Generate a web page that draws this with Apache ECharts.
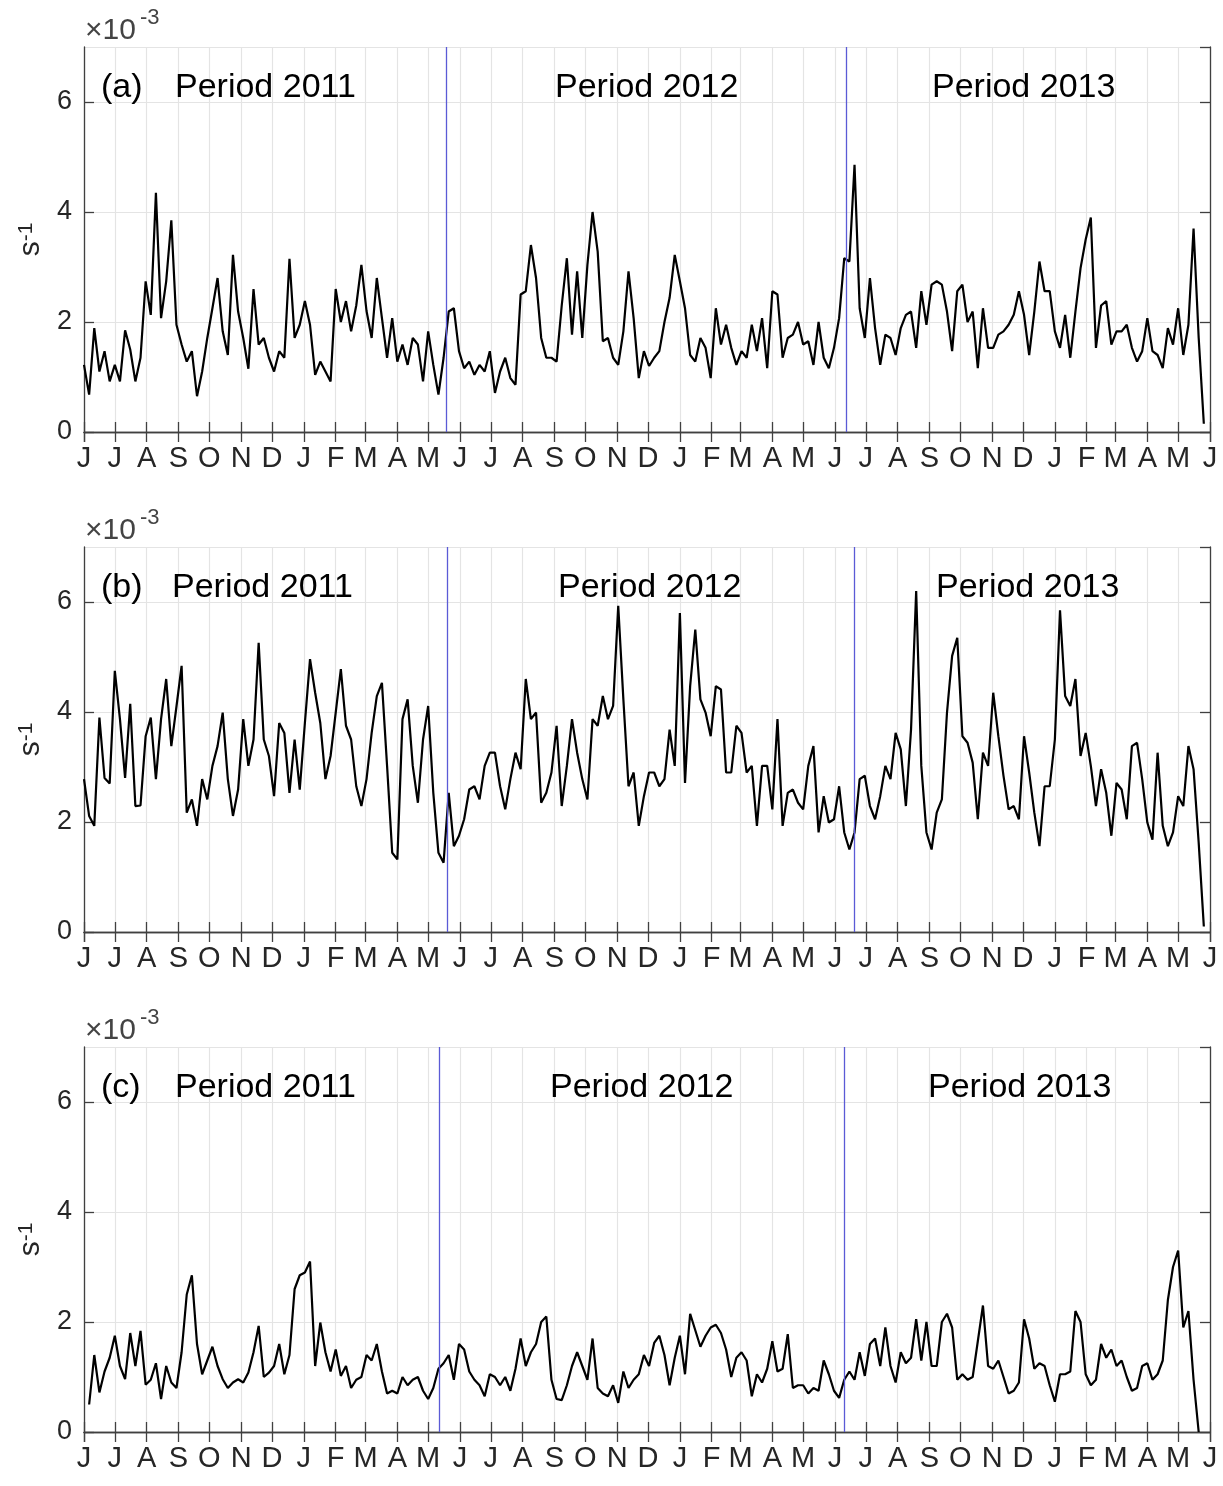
<!DOCTYPE html>
<html>
<head>
<meta charset="utf-8">
<script src="https://cdn.jsdelivr.net/npm/echarts@6/dist/echarts.min.js"></script>
<style>
  html, body { margin: 0; padding: 0; background: #fff; }
  #chart { width: 1223px; height: 1486px; }
</style>
</head>
<body>
<div id="chart"></div>
<script>
// time range and sampling (values are read every 5 days from 1 Jun 2011)
const startDate = Date.UTC(2011, 5, 1);
const endDate = Date.UTC(2014, 5, 1);
const stepDays = 5;
const DAY = 86400000;

const monthLetters = ['J', 'F', 'M', 'A', 'M', 'J', 'J', 'A', 'S', 'O', 'N', 'D'];
const panelLetters = ['(a)', '(b)', '(c)'];
const periodNames = ['Period 2011', 'Period 2012', 'Period 2013'];
const yTicks = [0, 2, 4, 6];

// dates of the blue lines separating the periods, per panel
const breaksA = ['2012-05-19', '2013-06-12'];
const breaksB = ['2012-05-20', '2013-06-20'];
const breaksC = ['2012-05-12', '2013-06-10'];

// x 10^-3 s^-1
const seriesA = [
  1.22, 0.68, 1.89, 1.10, 1.47, 0.92, 1.22, 0.92, 1.85, 1.50,
  0.92, 1.35, 2.74, 2.13, 4.35, 2.07, 2.74, 3.85, 1.95, 1.59,
  1.28, 1.47, 0.65, 1.10, 1.71, 2.25, 2.80, 1.83, 1.40, 3.22,
  2.19, 1.71, 1.15, 2.60, 1.59, 1.71, 1.35, 1.10, 1.47, 1.35,
  3.15, 1.71, 1.95, 2.38, 1.95, 1.04, 1.28, 1.10, 0.92, 2.60,
  2.00, 2.38, 1.83, 2.30, 3.04, 2.20, 1.71, 2.80, 2.07, 1.35,
  2.07, 1.28, 1.59, 1.22, 1.71, 1.59, 0.92, 1.83, 1.22, 0.68,
  1.35, 2.19, 2.25, 1.47, 1.16, 1.28, 1.04, 1.22, 1.10, 1.47,
  0.71, 1.10, 1.35, 0.98, 0.86, 2.50, 2.56, 3.40, 2.80, 1.71,
  1.35, 1.35, 1.28, 2.30, 3.16, 1.77, 2.92, 1.71, 3.04, 4.00,
  3.28, 1.65, 1.71, 1.35, 1.22, 1.83, 2.92, 2.07, 0.98, 1.47,
  1.20, 1.35, 1.47, 2.00, 2.44, 3.22, 2.74, 2.25, 1.40, 1.28,
  1.71, 1.53, 0.98, 2.25, 1.59, 1.95, 1.53, 1.22, 1.47, 1.35,
  1.95, 1.47, 2.07, 1.16, 2.56, 2.50, 1.35, 1.71, 1.77, 2.00,
  1.59, 1.65, 1.22, 2.00, 1.35, 1.16, 1.53, 2.07, 3.16, 3.10,
  4.86, 2.25, 1.71, 2.80, 1.89, 1.22, 1.77, 1.71, 1.40, 1.89,
  2.13, 2.19, 1.53, 2.56, 1.95, 2.68, 2.74, 2.68, 2.19, 1.47,
  2.56, 2.68, 2.00, 2.19, 1.16, 2.25, 1.53, 1.53, 1.77, 1.83,
  1.95, 2.13, 2.56, 2.13, 1.40, 2.19, 3.10, 2.56, 2.56, 1.83,
  1.53, 2.13, 1.35, 2.19, 2.98, 3.50, 3.90, 1.53, 2.30, 2.38,
  1.59, 1.83, 1.83, 1.95, 1.53, 1.28, 1.47, 2.07, 1.47, 1.40,
  1.16, 1.89, 1.59, 2.25, 1.40, 1.95, 3.70, 1.71, 0.15
];

const seriesB = [
  2.78, 2.11, 1.93, 3.90, 2.80, 2.70, 4.75, 3.87, 2.80, 4.15,
  2.29, 2.30, 3.56, 3.90, 2.78, 3.87, 4.60, 3.38, 4.10, 4.84,
  2.17, 2.41, 1.93, 2.78, 2.41, 3.02, 3.38, 3.99, 2.78, 2.11,
  2.59, 3.87, 3.02, 3.50, 5.26, 3.50, 3.20, 2.47, 3.80, 3.62,
  2.53, 3.50, 2.59, 3.80, 4.96, 4.35, 3.80, 2.78, 3.20, 3.99,
  4.78, 3.75, 3.50, 2.65, 2.29, 2.78, 3.62, 4.29, 4.53, 3.02,
  1.44, 1.32, 3.87, 4.23, 3.02, 2.35, 3.50, 4.11, 2.53, 1.44,
  1.26, 2.53, 1.56, 1.75, 2.05, 2.59, 2.65, 2.41, 3.02, 3.26,
  3.26, 2.65, 2.23, 2.78, 3.26, 2.96, 4.60, 3.87, 3.99, 2.35,
  2.53, 2.90, 3.75, 2.29, 3.02, 3.87, 3.26, 2.78, 2.41, 3.87,
  3.75, 4.29, 3.87, 4.11, 5.93, 4.23, 2.65, 2.90, 1.93, 2.47,
  2.90, 2.90, 2.65, 2.78, 3.68, 3.02, 5.80, 2.71, 4.47, 5.50,
  4.23, 3.99, 3.56, 4.47, 4.41, 2.90, 2.90, 3.75, 3.62, 2.90,
  3.02, 1.93, 3.02, 3.02, 2.23, 3.87, 1.93, 2.53, 2.59, 2.35,
  2.23, 3.02, 3.38, 1.81, 2.47, 1.99, 2.05, 2.65, 1.81, 1.50,
  1.81, 2.78, 2.84, 2.29, 2.05, 2.47, 3.02, 2.78, 3.62, 3.32,
  2.29, 3.68, 6.20, 3.02, 1.81, 1.50, 2.17, 2.41, 3.99, 5.02,
  5.35, 3.56, 3.44, 3.08, 2.05, 3.26, 3.02, 4.35, 3.56, 2.84,
  2.23, 2.29, 2.05, 3.56, 2.90, 2.17, 1.56, 2.65, 2.65, 3.50,
  5.85, 4.29, 4.11, 4.60, 3.20, 3.62, 3.02, 2.29, 2.96, 2.53,
  1.75, 2.71, 2.59, 2.05, 3.38, 3.44, 2.78, 1.99, 1.68, 3.26,
  1.93, 1.56, 1.81, 2.47, 2.29, 3.38, 2.96, 1.62, 0.10
];

const seriesC = [
  null, 0.50, 1.40, 0.72, 1.10, 1.35, 1.75, 1.20, 0.96, 1.80,
  1.20, 1.84, 0.86, 0.95, 1.25, 0.60, 1.20, 0.90, 0.80, 1.45,
  2.50, 2.85, 1.60, 1.05, 1.30, 1.55, 1.20, 0.96, 0.80, 0.90,
  0.96, 0.90, 1.08, 1.45, 1.93, 1.00, 1.08, 1.20, 1.60, 1.05,
  1.40, 2.60, 2.85, 2.90, 3.10, 1.20, 1.99, 1.45, 1.10, 1.50,
  1.02, 1.20, 0.80, 0.95, 1.00, 1.40, 1.30, 1.60, 1.10, 0.70,
  0.75, 0.70, 1.00, 0.85, 0.95, 1.00, 0.75, 0.60, 0.80, 1.15,
  1.25, 1.40, 0.95, 1.60, 1.50, 1.10, 0.95, 0.85, 0.65, 1.05,
  1.00, 0.85, 1.00, 0.75, 1.15, 1.70, 1.20, 1.45, 1.60, 2.00,
  2.10, 0.95, 0.60, 0.58, 0.85, 1.20, 1.45, 1.20, 0.95, 1.70,
  0.80, 0.70, 0.65, 0.85, 0.53, 1.10, 0.80, 0.95, 1.05, 1.40,
  1.20, 1.62, 1.75, 1.40, 0.85, 1.35, 1.75, 1.05, 2.15, 1.85,
  1.55, 1.75, 1.90, 1.95, 1.80, 1.50, 1.00, 1.35, 1.45, 1.30,
  0.65, 1.05, 0.90, 1.15, 1.65, 1.10, 1.15, 1.78, 0.80, 0.85,
  0.85, 0.70, 0.80, 0.75, 1.30, 1.05, 0.75, 0.62, 0.95, 1.10,
  0.95, 1.45, 1.02, 1.60, 1.70, 1.20, 1.90, 1.20, 0.90, 1.45,
  1.25, 1.35, 2.05, 1.30, 2.00, 1.20, 1.20, 2.00, 2.15, 1.90,
  0.95, 1.05, 0.95, 1.00, 1.65, 2.30, 1.20, 1.15, 1.30, 1.00,
  0.70, 0.75, 0.90, 2.05, 1.70, 1.15, 1.25, 1.20, 0.85, 0.55,
  1.05, 1.05, 1.10, 2.20, 2.00, 1.05, 0.85, 0.95, 1.60, 1.35,
  1.50, 1.20, 1.30, 1.00, 0.75, 0.80, 1.20, 1.25, 0.95, 1.05,
  1.30, 2.40, 3.00, 3.30, 1.90, 2.20, 0.95, 0.00
];

const allSeries = [seriesA, seriesB, seriesC];
const allBreaks = [breaksA, breaksB, breaksC];

// layout
const FONT = 'Liberation Sans, Arial, Helvetica, sans-serif';
const gridTops = [47, 547, 1047];
const gridLeft = 84, gridWidth = 1126, gridHeight = 385;
const labelX = [[101, 175, 555, 932], [101, 172, 558, 936], [101, 175, 550, 928]];
const axisColor = '#404040';
const gridColor = '#e4e4e4';

function init() {
  const chart = echarts.init(document.getElementById('chart'));
  const grids = [], xAxes = [], yAxes = [], series = [], graphics = [];

  gridTops.forEach((top, i) => {
    grids.push({ left: gridLeft, top: top, width: gridWidth, height: gridHeight, containLabel: false, outerBoundsMode: 'none' });
    const xBase = { type: 'time', gridIndex: i, min: startDate, max: endDate, splitNumber: 36,
      minInterval: 28 * DAY, maxInterval: 31 * DAY,
      axisLine: { show: true, lineStyle: { color: axisColor, width: 1.3 } },
      axisTick: { show: true, inside: true, length: 10, lineStyle: { color: axisColor, width: 1.3 } } };
    xAxes.push(Object.assign({}, xBase, {
      position: 'bottom',
      axisLabel: { show: true, fontFamily: FONT, fontSize: 29, color: '#262626', margin: 12,
        hideOverlap: false, showMinLabel: true, showMaxLabel: true,
        formatter: v => monthLetters[new Date(v).getUTCMonth()] },
      splitLine: { show: true, lineStyle: { color: gridColor, width: 1.2 } }
    }));
    xAxes.push(Object.assign({}, xBase, {
      position: 'top', axisLabel: { show: false }, splitLine: { show: false }
    }));
    const yBase = { type: 'value', gridIndex: i, min: 0, max: 7, interval: 2,
      axisLine: { show: true, lineStyle: { color: axisColor, width: 1.3 } },
      axisTick: { show: true, inside: true, length: 10, lineStyle: { color: axisColor, width: 1.3 } } };
    yAxes.push(Object.assign({}, yBase, {
      position: 'left',
      axisLabel: { fontFamily: FONT, fontSize: 27, color: '#262626', margin: 12, showMaxLabel: false,
        formatter: v => (yTicks.indexOf(v) >= 0 ? String(v) : '') },
      splitLine: { show: true, lineStyle: { color: gridColor, width: 1.2 } },
      name: '{s|s}{p|-1}', nameLocation: 'middle', nameGap: 32, nameRotate: 90,
      nameTextStyle: { fontFamily: FONT, color: '#262626',
        rich: { s: { fontSize: 30, fontFamily: FONT, color: '#262626', verticalAlign: 'bottom' },
                p: { fontSize: 21, fontFamily: FONT, color: '#262626', verticalAlign: 'top' } } }
    }));
    yAxes.push(Object.assign({}, yBase, {
      position: 'right', axisLabel: { show: false }, splitLine: { show: false }
    }));

    series.push({
      type: 'line', xAxisIndex: i * 2, yAxisIndex: i * 2,
      data: allSeries[i].map((v, k) => [startDate + k * stepDays * DAY, v]),
      showSymbol: false, symbol: 'none', connectNulls: false,
      lineStyle: { color: '#000', width: 2.2 }, z: 3,
      markLine: { silent: true, symbol: ['none', 'none'], label: { show: false },
        lineStyle: { color: '#5b5bd6', width: 1.3, type: 'solid' },
        data: allBreaks[i].map(d => ({ xAxis: Date.parse(d) })) }
    });

    // exponent above the axis
    graphics.push({ type: 'text', x: 85, y: top - 16, z: 10,
      style: { text: '×10', font: '30px ' + FONT, fill: '#444', verticalAlign: 'middle' } });
    graphics.push({ type: 'text', x: 140, y: top - 29, z: 10,
      style: { text: '-3', font: '22px ' + FONT, fill: '#444', verticalAlign: 'middle' } });
    // panel letter and period names
    const lx = labelX[i];
    graphics.push({ type: 'text', x: lx[0], y: top + 41, z: 10,
      style: { text: panelLetters[i], font: '34px ' + FONT, fill: '#000', verticalAlign: 'middle' } });
    periodNames.forEach((p, j) => {
      graphics.push({ type: 'text', x: lx[j + 1], y: top + 41, z: 10,
        style: { text: p, font: '34px ' + FONT, fill: '#000', verticalAlign: 'middle' } });
    });
  });

  chart.setOption({
    backgroundColor: '#fff',
    animation: false,
    useUTC: true,
    grid: grids,
    xAxis: xAxes,
    yAxis: yAxes,
    series: series,
    graphic: graphics
  });
  window.addEventListener('resize', () => chart.resize());
}

document.addEventListener('DOMContentLoaded', init);
</script>
</body>
</html>
